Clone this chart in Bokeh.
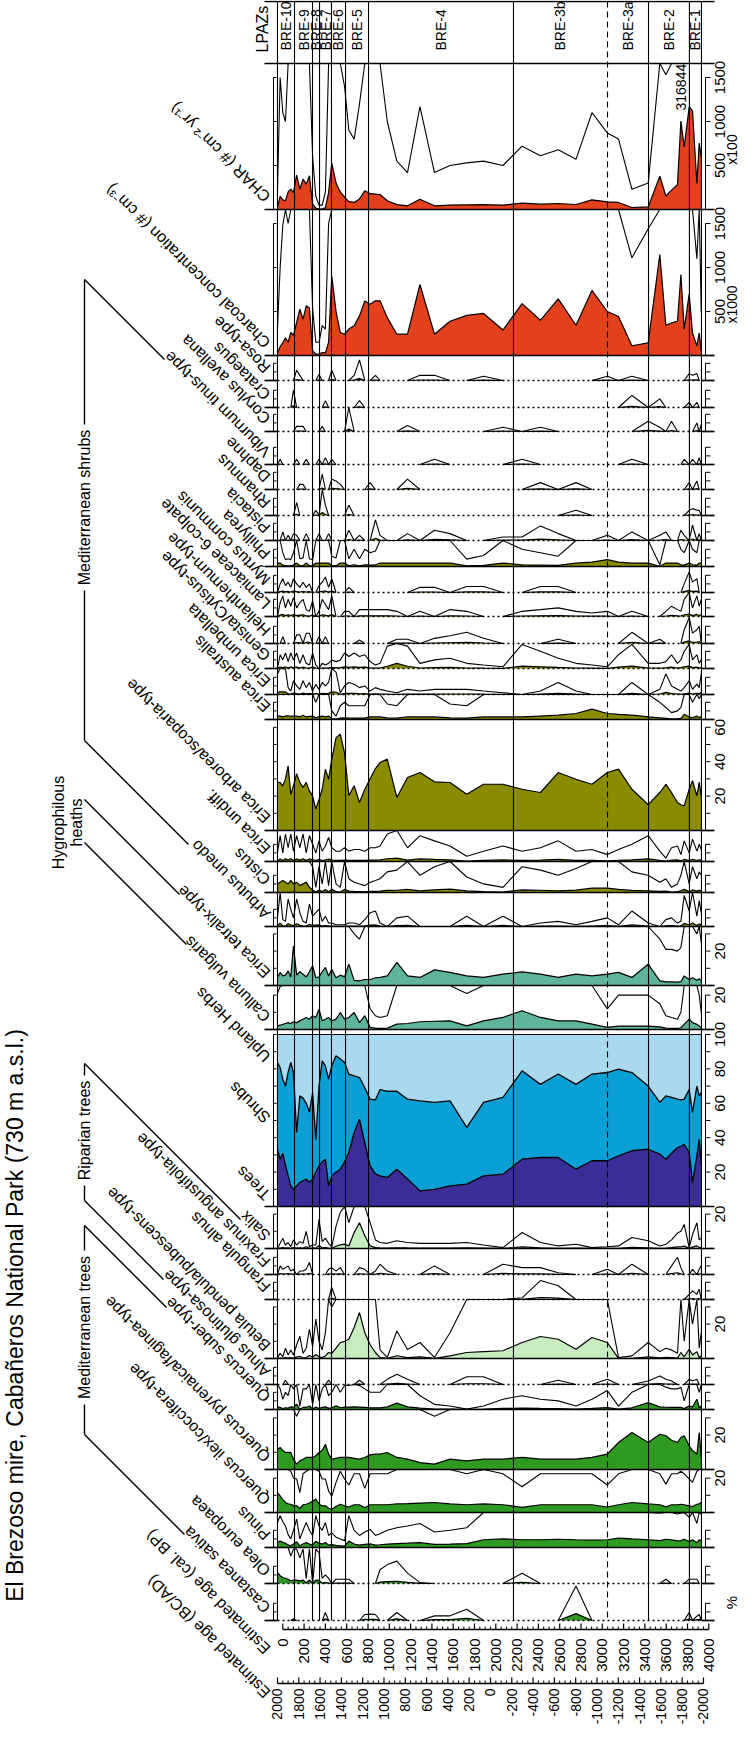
import math
import numpy as np
from bokeh.plotting import figure
from bokeh.models import Range1d
from bokeh.core.properties import value
from bokeh.embed import file_html
from bokeh.resources import INLINE

FONT = "Liberation Sans"

# ---------------------------------------------------------------- data
sample_age_bp = [-50, -25, 0, 25, 50, 75, 100, 130, 160, 190, 220, 250, 280, 310, 340, 370, 400, 430, 460, 500,
                 540, 580, 620, 670, 720, 770, 820, 870,
                 913, 981, 1071, 1171, 1288, 1424, 1570, 1727, 1885, 2067, 2247, 2419, 2586, 2753, 2903, 3047,
                 3152, 3278, 3431,
                 3540, 3597, 3650, 3706, 3738, 3769, 3816, 3847, 3888, 3910, 3929]

char_x100 = ([20, 150, 110, 100, 200, 231, 193, 390, 231, 345, 288, 383, 60, 15, 5, 5, 20, 193, 527, 300, 200, 140, 90, 80, 120, 212, 180, 175]
             + [170, 100, 55, 42, 117, 42, 50, 53, 55, 50, 72, 61, 68, 57, 110, 87, 80, 23, 30]
             + [378, 153, 220, 283, 1004, 708, 1168, 1120, 295, 755, 590])
conc_x1000 = ([30, 100, 148, 200, 150, 261, 230, 375, 527, 413, 564, 540, 53, 15, 15, 34, 30, 150, 900, 500, 261, 242, 300, 337, 450, 620, 583, 621]
              + [621, 430, 242, 242, 807, 242, 389, 456, 478, 289, 589, 400, 644, 344, 739, 500, 444, 111, 144]
              + [1148, 344, 370, 389, 920, 300, 700, 256, 110, 256, 50])
rosa = ([0, 0, 0, 0, 0, 0, 0, 0.6, 0.3, 0, 0, 0, 0, 0, 0.35, 0, 0, 0, 0.6, 0, 0, 0, 0, 0.3, 1.2, 0, 0, 0.3]
        + [0, 0, 0, 0, 0.3, 0.3, 0, 0, 0.25, 0, 0, 0, 0, 0, 0, 0.25, 0, 0.25, 0]
        + [0, 0, 0, 0, 0, 0, 0.4, 0.3, 0.4, 0, 0])
crataegus = ([0, 0, 0, 0, 0, 0, 1.0, 0, 0, 0, 0, 0, 0, 0, 0, 0, 0.4, 0, 0, 0, 0, 0, 0, 0, 0.4, 0, 0, 0]
             + [0, 0, 0, 0, 0, 0, 0, 0, 0, 0, 0, 0, 0, 0, 0, 0, 0, 0.7, 0]
             + [0.5, 0, 0, 0, 0, 0, 0.3, 0, 0.3, 0, 0])
corylus = ([0, 0, 0, 0, 0, 0, 0, 0.3, 0.3, 0.3, 0, 0, 0, 0, 0, 0.3, 0, 0, 0, 0, 0, 0, 1.5, 0, 0, 0, 0, 0]
           + [0, 0, 0, 0.35, 0, 0, 0, 0, 0, 0.25, 0, 0.25, 0, 0, 0, 0, 0, 0, 0.6]
           + [0.25, 0, 0.6, 0, 0, 0, 0, 0, 0.5, 0, 0.4])
viburnum = ([0, 0.3, 0, 0, 0, 0, 0, 0.3, 0, 0, 0.3, 0, 0, 0, 0.3, 0, 0.4, 0, 0.3, 0, 0, 0, 0, 0, 0, 0, 0, 0]
            + [0, 0, 0, 0, 0, 0.3, 0, 0, 0, 0, 0.3, 0, 0, 0, 0, 0, 0, 0.3, 0]
            + [0, 0, 0, 0, 0, 0.3, 0, 0.3, 0, 0.4, 0])
daphne = ([0, 0, 0, 0, 0, 0, 0, 0, 0.3, 0.3, 0, 0, 0, 0, 0, 0.9, 0, 0, 0.6, 0.5, 0.3, 0, 0, 0, 0, 0, 0.4, 0]
          + [0, 0, 0, 0.6, 0, 0, 0, 0, 0, 0, 0, 0.4, 0, 0.4, 0, 0, 0, 0, 0]
          + [0, 0, 0, 0, 0, 0, 0.4, 0, 0.5, 0, 0])
rhamnus = ([0, 0, 0, 0, 0, 0, 0, 0.75, 0, 0, 0, 0, 0, 0.3, 0, 1.8, 0.6, 0, 0, 0, 0, 0, 0.6, 0, 0, 0, 0, 0]
           + [0, 0, 0, 0, 0, 0, 0, 0, 0, 0, 0, 0, 0, 0.3, 0, 0, 0, 0, 0]
           + [0, 0, 0, 0, 0, 0, 0.3, 0.4, 0.3, 0.3, 0])
pistacia = ([0, 0, 0.5, 0, 0.3, 0, 0.4, 0.3, 0, 0, 0.4, 0, 0, 0, 0.4, 0, 0, 0.4, 0, 0, 0, 0, 0.6, 0, 0.3, 0, 0, 1.2]
            + [0.3, 0, 0, 0.4, 0, 0.6, 0.4, 0, 0, 0.2, 0.2, 0.85, 0.4, 0, 0, 0.3, 0, 0.5, 0]
            + [0.3, 0.5, 0, 0, 0.6, 0.3, 0, 0.9, 0, 0.4, 0])
phillyrea = ([2.0, 2.0, 0.8, 0.4, 0.45, 0.4, 0.8, 2.0, 0.45, 0.5, 2.0, 0.45, 0.4, 2.0, 2.0, 2.0, 2.0, 2.0, 0.6, 0.5, 2.0, 2.0, 0.45, 1.0, 0.45, 1.0, 0.8, 0.9]
             + [2.0, 2.0, 2.0, 2.0, 2.0, 2.0, 2.0, 0.43, 0.64, 2.0, 1.0, 0.8, 0.6, 2.0, 2.5, 4.0, 2.5, 2.0, 2.0]
             + [0.1, 2.0, 2.0, 2.0, 1.0, 0.8, 2.0, 1.0, 0.8, 2.0, 2.0])
myrtus = ([0, 0.5, 0.8, 0.4, 0.6, 0.3, 0.8, 0.5, 0.3, 0.6, 0.3, 0.5, 0, 0, 0.4, 0.6, 0.9, 0.3, 0.8, 0, 0, 0, 0.3, 0, 0, 0, 0, 0]
          + [0, 0, 0, 0, 0.3, 0.3, 0, 0.35, 0.35, 0, 0, 0.35, 0.35, 0, 0, 0, 0, 0, 0]
          + [0, 0, 0, 0, 0, 0.5, 1.2, 0.6, 0.8, 0, 0])
lamiaceae = ([0, 0.8, 1.2, 0.5, 1.0, 0.6, 1.1, 0.5, 0.8, 1.0, 0.4, 0.3, 0.9, 0, 0.3, 1.0, 0.7, 0.4, 1.2, 0, 0, 0.3, 0.3, 0, 0.4, 0.4, 0.4, 0.4]
             + [0.4, 0.4, 0.3, 0, 0.3, 0, 0.4, 0.3, 0, 0, 0.3, 0.4, 0.5, 0.3, 0.2, 0.3, 0, 0.3, 0]
             + [0, 0.3, 0.6, 0.4, 0.3, 1.0, 1.4, 0.5, 1.2, 0.6, 1.0])
helianthemum = ([0, 0, 0.4, 0, 0, 0, 0, 0.5, 0.5, 0, 0.6, 0.6, 0, 0, 0.4, 0, 0.4, 0, 0, 0, 0, 0, 0, 0, 0.2, 0, 0, 0]
                + [0, 0, 0.25, 0.25, 0, 0.3, 0.45, 0.65, 0.3, 0, 0, 0, 0.25, 0, 0, 0, 0, 0.65, 0]
                + [0.25, 0, 0, 0, 0, 0.8, 1.5, 0.6, 0.8, 1.0, 0])
genista = ([0, 0.8, 0.5, 0.9, 0.4, 0.9, 0.5, 0.9, 0.3, 0.8, 0.3, 0.2, 0.9, 0.2, 0, 0.3, 0.2, 0.3, 0.5, 0.4, 0.5, 0.9, 0.7, 0.9, 0.7, 0.8, 0.4, 0.2]
           + [0.3, 1.3, 3.0, 1.3, 0.3, 0.5, 0.6, 0.3, 0.2, 0.1, 1.4, 1.0, 0.6, 0.3, 0.2, 0.1, 0.8, 1.4, 0.3]
           + [0.3, 0.4, 0.8, 0.3, 0.5, 1.0, 1.4, 0.5, 0.8, 0.3, 0.5])
erica_umbellata = ([1.2, 1.5, 1.5, 1.5, 0.4, 0.2, 0.8, 0.5, 0.3, 0.8, 0.4, 0.7, 0.2, 0.6, 0.3, 0.7, 0.5, 0.7, 1.5, 1.3, 0.1, 0.5, 0.7, 0.6, 0.4, 0.5, 0.2, 0.4]
                   + [0.3, 0.2, 0.1, 0.3, 0.2, 0.3, 0.3, 0.3, 0.2, 0.1, 0, 0.2, 0.7, 0.2, 0, 0, 0, 0.7, 0]
                   + [0.3, 1.2, 0.5, 0.3, 0.2, 0.4, 0.8, 0.3, 0.6, 0.4, 1.2])
erica_australis = ([2, 2, 1.5, 2, 2.2, 1.8, 2, 2, 1.5, 2.5, 1.5, 1.8, 2, 1.0, 1.5, 2, 1.5, 2, 0.5, 0.2, 0.8, 1.0, 0.8, 0.8, 0.8, 0.8, 1.6, 1.5]
                   + [1.5, 0.9, 0.8, 1.6, 1.5, 1.5, 0.9, 0.8, 1.5, 1.5, 1.5, 2, 2.5, 3.5, 6.0, 3.5, 3.0, 2.5, 1.5]
                   + [1.0, 0.7, 0.4, 0.5, 0.7, 3, 1.5, 1.0, 2, 1.2, 1.5])
erica_arborea = ([28, 27.9, 26, 30, 37.6, 21, 26, 33, 28, 25, 28, 23, 20, 12.4, 18, 24, 35.7, 29.8, 41.5, 54, 56, 45, 20.2, 26, 16.3, 24, 30, 36]
                 + [39.5, 41.5, 19.2, 30.8, 33.7, 28.3, 27.9, 21.1, 26.9, 26.9, 24, 22.1, 33.7, 29.8, 26.9, 33.7, 35.7, 24, 15]
                 + [22.1, 26.9, 22, 16.3, 15, 14.3, 24, 28.9, 20.2, 28, 20])
erica_undiff = ([0.5, 1.5, 0.5, 1.6, 0.8, 1.6, 0.6, 1.5, 0.8, 1.6, 0.5, 1.5, 1.0, 0.5, 1.2, 0.6, 0.9, 1.4, 0.8, 0.6, 0.6, 0.8, 0.6, 0.7, 0.7, 0.6, 0.8, 0.8]
                + [0.9, 1.6, 2.0, 0.8, 1.5, 1.2, 0.9, 0.3, 0.6, 0.9, 0.6, 0.8, 1.2, 0.6, 0.7, 0.4, 0.7, 1.0, 1.5]
                + [0.6, 0.2, 0.8, 0.9, 0.4, 1.2, 0.5, 1.3, 0.6, 1.0, 0.7])
cistus = ([5, 6, 7, 6, 5, 7, 5, 6, 4, 5, 6, 3, 1.5, 0.3, 1.5, 0.5, 1.8, 0.4, 1.8, 0.5, 0.3, 1.8, 0.8, 0.6, 0.5, 0.4, 0.6, 0.7]
          + [0.8, 1.2, 1.3, 1.8, 1.0, 1.5, 2.0, 0.9, 0.5, 0.3, 1.5, 1.3, 1.0, 1.4, 2.5, 2.5, 1.8, 1.2, 1.0]
          + [0.6, 0.8, 0.3, 0.5, 1.0, 1.8, 0.5, 1.5, 0.8, 1.2, 1.0])
arbutus = ([0.5, 2.0, 0.4, 0.3, 1.6, 1.0, 0.5, 1.6, 0.8, 0.3, 0.2, 1.3, 0.6, 0.8, 1.0, 0.3, 0.6, 0.2, 0.2, 0.1, 0.1, 0.1, 0.2, 0.2, 0.1, 0.4, 0.8, 0.9]
           + [0.2, 0, 0.5, 0.6, 0, 0, 0, 0.6, 0, 0.6, 0, 0.2, 0.3, 0.1, 0.3, 0.5, 0.1, 0.9, 0.2]
           + [0, 0.4, 0.5, 0.2, 0.3, 1.8, 0.9, 2.0, 0.6, 1.5, 0.8])
erica_tetralix = ([4.7, 7.6, 5.6, 6, 8.5, 5, 23, 6, 8, 6.5, 5, 8, 11.4, 4.5, 5, 8, 10.5, 5.5, 9.5, 4.5, 6, 5, 12.4, 3, 2.7, 3.5, 3.5, 4.5]
                  + [4.7, 5.6, 13.4, 5.6, 4.7, 9.1, 7.6, 5.6, 4.7, 6.6, 7.9, 6.6, 4.7, 6.6, 5.6, 6.6, 7.6, 4.7, 12.4]
                  + [2.7, 2.1, 2.1, 2.0, 2.2, 5.6, 3.5, 4.5, 3.0, 4.0, 2.5])
calluna = ([2.1, 2.5, 3, 3.5, 4, 3.5, 4.5, 4, 5, 6, 7, 6, 8, 7, 11.8, 5, 6, 7, 5, 6, 9.9, 6, 7, 9.9, 4, 8, 1.2, 0.8]
           + [0.7, 0.8, 3.1, 3.5, 4.5, 4.8, 5, 2.1, 5, 7, 10.9, 7, 5, 5, 3.1, 1.2, 2.0, 2.0, 2.0]
           + [1.5, 0.8, 0.7, 0.6, 1.0, 3, 6, 4, 3, 2, 1.0])
trees_pct = ([33, 27.5, 31, 24, 18, 12, 10, 12, 14, 15, 16, 14, 16, 20, 23.6, 26, 27.5, 12, 17.8, 20, 21.7, 26, 31.4, 43, 50.8, 37, 23.6, 19]
             + [17.8, 16.9, 21.7, 16, 9.1, 10, 12, 13, 17.8, 18.8, 27.5, 28.5, 28.5, 21.7, 26.6, 26.6, 29.5, 32.4, 33.3]
             + [30.4, 27.5, 31, 34.3, 35, 36.2, 31.4, 14, 29.5, 39, 23.6])
trees_plus_shrubs_pct = ([83.7, 80.8, 74, 70, 78, 83.7, 77.9, 43, 64.3, 63, 60, 55, 66, 39, 70, 84.7, 81.8, 74, 81.8, 87.6, 85.7, 83.7, 77, 76, 75, 69, 62.4, 62]
                         + [68, 67, 67, 62.4, 61.4, 60.5, 61.4, 46, 60.5, 63.4, 78.9, 71, 77, 71, 77, 77.9, 79.8, 77.9, 70]
                         + [60.5, 64.3, 63.4, 62.4, 62, 62.4, 68, 54.7, 70, 64.3, 66.3])
salix = ([0, 0.3, 0.6, 0.2, 0.35, 0.1, 0.5, 0.2, 0.4, 0.3, 1.0, 0.1, 0.2, 0.2, 1.7, 0.4, 0.6, 0.3, 0.1, 1.3, 2.1, 2.5, 1.5, 9.3, 15, 7.4, 1.5, 0.5]
         + [0.35, 0.3, 0.45, 0.35, 0.3, 0.3, 0.3, 0.35, 0.2, 0.05, 0.93, 0.35, 0.15, 0.25, 0.05, 0.1, 0.15, 0.64, 0.45]
         + [0.15, 0.25, 0.5, 0.9, 1.0, 1.4, 0.05, 0.8, 1.5, 0.5, 0.6])
fraxinus = ([0, 0.5, 0.3, 0.4, 0.5, 0.2, 0.3, 0, 0.2, 0.2, 0.3, 0.7, 0, 0, 0, 0, 0, 0.3, 0.4, 0.2, 0.4, 0, 0, 0, 0.4, 0.3, 0, 0.2]
            + [0.6, 0.2, 0, 0, 0, 0.5, 0, 0, 0, 0.6, 0.4, 0.4, 0.1, 0, 0, 0.3, 0, 0.6, 0]
            + [0, 0, 0.5, 1.0, 0.4, 0, 0, 0.3, 0, 0.3, 0.5])
frangula = ([0, 0, 0, 0, 0, 0, 0, 0, 0, 0, 0, 0, 0, 0, 0, 0, 0, 0, 0.7, 0, 0, 0, 0, 0, 0, 0, 0, 0]
            + [0, 0, 0, 0, 0, 0, 0, 0, 0, 0, 0.1, 1.1, 0.8, 0, 0, 0, 0, 0, 0]
            + [0, 0, 0, 0, 0, 0, 0.3, 0.5, 0.3, 0.6, 0])
betula = ([0.05, 0.3, 0.1, 0.6, 0.2, 0.5, 0.2, 0.8, 1.3, 0.3, 0.6, 1.7, 0.7, 2.3, 1.0, 0.5, 1.5, 3.5, 3.0, 6, 9.3, 10, 11.2, 18, 26.7, 15, 8, 3.5]
          + [0.5, 0.06, 1.6, 0.52, 0.93, 0.06, 1.5, 3.5, 4, 4.5, 9.3, 12.8, 11.2, 5.4, 12.2, 9.3, 0.06, 0.15, 0.93]
          + [0.4, 0.6, 0.5, 0.3, 3.5, 1.0, 5.4, 2, 4, 0.6, 1.5])
alnus = ([0, 0, 0, 0.25, 0, 0, 0, 0, 0, 0, 0, 0, 0, 0, 0, 0, 0, 0.25, 0, 0, 0, 0, 0, 0, 0.25, 0, 0, 0]
         + [0, 0.3, 0.6, 0.3, 0, 0, 0, 0.45, 0.45, 0, 0, 0, 0.25, 0, 0, 0.3, 0, 0, 0.2]
         + [0.5, 0.3, 0.2, 0, 0, 0, 0.3, 0.2, 0.3, 0, 0])
quercus_suber = ([1.5, 1.2, 0.6, 1.0, 0.8, 1.5, 1.2, 3.1, 0.2, 1.2, 1.2, 2, 0.3, 1.5, 0.5, 1.2, 1.5, 0.8, 1.0, 2.1, 1.0, 1.4, 1.4, 1.5, 1.4, 1.2, 1.0, 1.0]
                 + [1.0, 1.5, 3.7, 1.5, 0.8, 0.3, 0.2, 0.02, 0.2, 0.6, 0.8, 0.6, 0.5, 0.2, 0.6, 1.1, 0.2, 1.0, 4.0]
                 + [1.5, 1.3, 1.2, 1.2, 1.3, 0.5, 2, 1.5, 6, 1, 2])
quercus_pyrenaica = ([11.8, 12.8, 11, 9.9, 9.9, 9.9, 6, 3.1, 5, 6, 7, 7, 7, 8, 9.9, 11, 14.7, 8.9, 6, 6.5, 7, 7, 7, 6.5, 6, 7, 8.5, 8.9]
                     + [8.9, 9.9, 7, 6, 4, 3.1, 6, 5, 6, 6, 7, 6, 6, 6, 7, 8.9, 15.7, 21.5, 15.7]
                     + [20.5, 19.6, 17, 15.7, 18.6, 19.6, 13.8, 11, 8.9, 21.5, 7])
quercus_ilex = ([11.6, 9.7, 7.5, 5.8, 5, 4.8, 4, 3.9, 2.3, 4.5, 4.8, 5.5, 6.5, 7.8, 4.8, 3.9, 3.9, 2.5, 1.9, 3.5, 4.8, 3.9, 3.2, 4.5, 4.5, 2.8, 4.5, 4.5]
                + [4.5, 4.5, 5, 5.2, 5.5, 5.8, 5, 4.5, 5, 4.5, 3.0, 4.5, 4.5, 4.5, 4.5, 3.2, 4.5, 5.8, 5]
                + [4.5, 3.3, 4.5, 4.5, 4.8, 4.5, 3.9, 3.5, 4.8, 5, 5.8])
pinus = ([2.9, 3.7, 3.0, 2.5, 1.5, 1.0, 2.0, 3.3, 1.0, 2.0, 2.9, 2.0, 1.4, 3.7, 2.5, 2.0, 2.9, 1.4, 1.7, 1.2, 1.0, 0.8, 3.7, 2.0, 1.4, 1.8, 2.1, 1.4]
         + [1.6, 2.0, 2.3, 2.5, 2.8, 1.8, 2.0, 2.3, 4.5, 5, 4.5, 4.5, 4.8, 4.5, 4.3, 4.5, 5.5, 5, 4.5]
         + [4.0, 4.8, 4.5, 3.9, 4.0, 4.8, 3.5, 4.5, 2.8, 4.5, 3.9])
olea = ([6.4, 4.5, 3.5, 3.0, 2.5, 1.6, 2.0, 2.0, 1.5, 2.0, 0.3, 2.0, 0, 2.0, 1.8, 0.3, 0.5, 0.3, 0, 0.25, 0.25, 0.25, 0.25, 0, 0, 0, 0, 0]
        + [0.8, 1.1, 1.3, 0.6, 0.05, 0, 0, 0, 0, 0, 0.6, 0, 0, 0, 0, 0, 0, 0, 0]
        + [0, 0.25, 0, 0, 0, 0, 0.25, 0.25, 0.25, 0, 0])
castanea = ([0, 0, 0, 0, 0, 0, 0.2, 0, 0, 0, 0, 0, 0, 0, 0, 0, 0.93, 0, 0, 0, 0, 0, 0, 0, 0, 0.7, 0.74, 0.7]
            + [0, 0, 0.93, 0, 0, 0.54, 0.54, 1.3, 0, 0, 0, 0, 0, 4.0, 0, 0, 0, 0, 0]
            + [0, 0, 0, 0, 0, 0, 0.93, 0, 0.5, 0.7, 0])

zone_edges_bp = [-50, 110, 279, 345, 457, 589, 805, 2166, 3049, 3434, 3818, 3931]
dashed_zone_edges_bp = [3049]
zone_names = ["BRE-10", "BRE-9", "BRE-8", "BRE-7", "BRE-6", "BRE-5", "BRE-4", "BRE-3b", "BRE-3a", "BRE-2", "BRE-1"]
cal_bp_ticks = list(range(0, 4001, 200))
cal_bp_minor = list(range(0, 4001, 50))
bc_ad_ticks = list(range(-2000, 2001, 200))
bc_ad_minor = list(range(-2000, 2001, 50))
charcoal_ticks = [500, 1000, 1500]
off_scale_value_text = "316844"

# ---------------------------------------------------------------- layout
TOP, BOT, LEFT, RIGHT = 8, 1734, 8, 747
AGE0_X, PX_PER_YR = 290.3, 0.1065
PCT = 1.72
CH = 0.088
RED, OLIVE, TEAL, DARK = "#e3411b", "#8b8b00", "#5fb49c", "#2a2a2a"
TREES_C, SHRUBS_C, HERBS_C = "#3a2d98", "#0a9fd5", "#a9d9ef"
RIP_C, GREEN = "#c6ecbf", "#2f9a22"
BP_AXIS_Y, AD_AXIS_Y = 1637, 1691
CURVE_W, EXAG_W = 1.2, 1.1

x0 = (LEFT - AGE0_X) / PX_PER_YR
x1 = (RIGHT - AGE0_X) / PX_PER_YR

p = figure(frame_width=RIGHT - LEFT, frame_height=BOT - TOP,
           x_range=Range1d(x0, x1), y_range=Range1d(BOT, TOP),
           x_axis_type=None, y_axis_type=None, min_border=0,
           output_backend="svg", toolbar_location=None,
           background_fill_color="white", border_fill_color="white", outline_line_color=None)
p.extra_x_ranges = {"px": Range1d(LEFT, RIGHT), "ad": Range1d(1950 - x0, 1950 - x1)}

ages = np.array(sample_age_bp, dtype=float)


def txt(x, y, t, size, angle=0.0, align="left", baseline="alphabetic", xr="px", yr=None):
    kw = dict(x=x, y=y, text=t, angle=angle, text_font=value(FONT), text_font_size=value(size),
              text_align=align, text_baseline=baseline, text_color="black")
    if xr:
        kw["x_range_name"] = xr
    if yr:
        kw["y_range_name"] = yr
    p.text(**kw)


def runs(x, y):
    xs, ys, cx, cy = [], [], [], []
    for i in range(len(x) - 1):
        if y[i] > 0 or y[i + 1] > 0:
            if not cx:
                cx, cy = [x[i]], [y[i]]
            cx.append(x[i + 1]); cy.append(y[i + 1])
        elif cx:
            xs.append(cx); ys.append(cy); cx, cy = [], []
    if cx:
        xs.append(cx); ys.append(cy)
    return xs, ys


F = [5, 10]
panels = [
    ("char", "CHAR (# cm\u207b\u00b2 yr\u207b\u00b9)", 217, 71, CH, char_x100, RED, 10, False, charcoal_ticks, charcoal_ticks),
    ("conc", "Charcoal concentration (# cm\u207b\u00b3)", 363, 217, CH, conc_x1000, RED, 10, False, charcoal_ticks, charcoal_ticks),
    ("rosa", "Rosa-type", 388, 363, PCT, rosa, DARK, 10, True, F, []),
    ("crat", "Crataegus", 415, 388, PCT, crataegus, DARK, 10, True, F, []),
    ("cory", "Corylus avellana", 439, 415, PCT, corylus, DARK, 10, True, F, []),
    ("vibu", "Viburnum tinus-type", 472, 439, PCT, viburnum, OLIVE, 10, True, F, []),
    ("daph", "Daphne", 497, 472, PCT, daphne, OLIVE, 10, True, F, []),
    ("rham", "Rhamnus", 523, 497, PCT, rhamnus, OLIVE, 10, True, F, []),
    ("pist", "Pistacia", 548, 523, PCT, pistacia, OLIVE, 10, True, F, []),
    ("phil", "Phillyrea", 574, 548, PCT, phillyrea, OLIVE, 10, False, F, []),
    ("myrt", "Myrtus communis", 600, 574, PCT, myrtus, OLIVE, 10, True, F, []),
    ("lami", "Lamiaceae 6-colpate", 624, 600, PCT, lamiaceae, OLIVE, 10, True, F, []),
    ("heli", "Helianthemum-type", 651, 624, PCT, helianthemum, OLIVE, 10, True, F, []),
    ("geni", "Genista/Cytisus-type", 676, 651, PCT, genista, OLIVE, 10, True, F, []),
    ("eumb", "Erica umbellata", 702, 676, PCT, erica_umbellata, OLIVE, 10, True, F, []),
    ("eaus", "Erica australis", 727, 702, PCT, erica_australis, OLIVE, 10, False, F, []),
    ("earb", "Erica arborea/scoparia-type", 838, 727, PCT, erica_arborea, OLIVE, None, False, [10, 20, 30, 40, 50, 60], [20, 40, 60]),
    ("eund", "Erica undiff.", 869, 838, PCT, erica_undiff, OLIVE, 10, False, F, []),
    ("cist", "Cistus", 900, 869, PCT, cistus, OLIVE, 10, False, F, []),
    ("arbu", "Arbutus unedo", 934, 900, PCT, arbutus, OLIVE, 10, False, F, []),
    ("etet", "Erica tetralix-type", 993, 934, PCT, erica_tetralix, TEAL, 10, False, [10, 20, 30], [20]),
    ("call", "Calluna vulgaris", 1037, 993, PCT, calluna, TEAL, 10, False, [10, 20], [20]),
    ("sali", "Salix", 1256, 1214, PCT, salix, RIP_C, 10, False, [10, 20], [20]),
    ("frax", "Fraxinus angustifolia-type", 1282, 1256, PCT, fraxinus, RIP_C, 10, True, F, []),
    ("fran", "Frangula alnus", 1307, 1282, PCT, frangula, RIP_C, 10, True, F, []),
    ("betu", "Betula pendula/pubescens-type", 1366, 1307, PCT, betula, RIP_C, 10, False, [10, 20, 30], [20]),
    ("alnu", "Alnus glutinosa-type", 1392, 1366, PCT, alnus, RIP_C, 10, True, F, []),
    ("qsub", "Quercus suber-type", 1417, 1392, PCT, quercus_suber, GREEN, 10, False, F, []),
    ("qpyr", "Quercus pyrenaica/faginea-type", 1477, 1417, PCT, quercus_pyrenaica, GREEN, 10, False, [10, 20, 30], [20]),
    ("qile", "Quercus ilex/coccifera-type", 1520, 1477, PCT, quercus_ilex, GREEN, 5, False, [10, 20], [20]),
    ("pinu", "Pinus", 1555, 1520, PCT, pinus, GREEN, 5, False, F, []),
    ("olea", "Olea europaea", 1591, 1555, PCT, olea, GREEN, 10, True, F, []),
    ("cast", "Castanea sativa", 1628, 1591, PCT, castanea, GREEN, 5, True, F, []),
]

STACK_B = 1214
LBL_X, LBL_DY = 275, 10


def add_axis_marks(key, ticks, labels):
    tmax = max(ticks)
    for xa, xb in ((713, 718), (281, 284)):
        p.segment(x0=[xa], x1=[xa], y0=[0], y1=[tmax], line_color="black", line_width=1,
                  x_range_name="px", y_range_name=key)
        p.segment(x0=[xa] * len(ticks), x1=[xb] * len(ticks), y0=ticks, y1=ticks, line_color="black",
                  line_width=1, x_range_name="px", y_range_name=key)
    if labels:
        txt([727] * len(labels), labels, [str(v) for v in labels], "15px", math.pi / 2, "center", "middle", "px", key)


for key, label, b, top, s, data, color, ex, dotted, ticks, labs in panels:
    assert len(data) == len(ages), key
    p.extra_y_ranges[key] = Range1d((b - BOT) / s, (b - TOP) / s)
    v = np.array(data, dtype=float)
    top_val = (b - top) / s
    p.varea(x=ages, y1=np.zeros_like(v), y2=v, fill_color=color, y_range_name=key)
    if ex:
        xs, ys = runs(list(ages), list(np.minimum(v * ex, top_val)))
        p.multi_line(xs, ys, line_color="black", line_width=EXAG_W, y_range_name=key)
    xs, ys = runs(list(ages), list(v))
    p.multi_line(xs, ys, line_color="black", line_width=CURVE_W, y_range_name=key)
    p.segment(x0=[272, 709], x1=[285, 722], y0=[b, b], y1=[b, b], line_color="black", line_width=1.7, x_range_name="px")
    p.segment(x0=[285], x1=[709], y0=[b], y1=[b], line_color="black", line_width=1.7,
              line_dash="2 3" if dotted else "solid", x_range_name="px")
    add_axis_marks(key, ticks, labs)
    txt([LBL_X], [b - LBL_DY], [label], "16px", 3 * math.pi / 4, "left", "alphabetic", "px")

# stacked Trees / Shrubs / Upland Herbs panel
p.extra_y_ranges["stack"] = Range1d((STACK_B - BOT) / PCT, (STACK_B - TOP) / PCT)
tr = np.array(trees_pct, dtype=float)
ts = np.array(trees_plus_shrubs_pct, dtype=float)
assert len(tr) == len(ages) and len(ts) == len(ages)
p.varea(x=ages, y1=np.zeros_like(tr), y2=tr, fill_color=TREES_C, y_range_name="stack")
p.varea(x=ages, y1=tr, y2=ts, fill_color=SHRUBS_C, y_range_name="stack")
p.varea(x=ages, y1=ts, y2=np.full_like(ts, 100.0), fill_color=HERBS_C, y_range_name="stack")
p.line(ages, tr, line_color="black", line_width=1.3, y_range_name="stack")
p.line(ages, ts, line_color="black", line_width=1.3, y_range_name="stack")
p.segment(x0=[ages[0]], x1=[ages[-1]], y0=[100], y1=[100], line_color="black", line_width=1, y_range_name="stack")
p.segment(x0=[272], x1=[722], y0=[STACK_B], y1=[STACK_B], line_color="black", line_width=1.7, x_range_name="px")
add_axis_marks("stack", list(range(10, 101, 10)), [20, 40, 60, 80, 100])
txt([LBL_X] * 3, [1067, 1128, 1205], ["Upland Herbs", "Shrubs", "Trees"], "16px", 3 * math.pi / 4, "left", "alphabetic", "px")

# zone lines
solid_edges = [e for e in zone_edges_bp if e not in dashed_zone_edges_bp]
p.segment(x0=solid_edges, x1=solid_edges, y0=[9] * len(solid_edges), y1=[1628] * len(solid_edges),
          line_color="black", line_width=1.1)
p.segment(x0=dashed_zone_edges_bp, x1=dashed_zone_edges_bp, y0=[9], y1=[1628], line_color="black",
          line_width=1.1, line_dash="6 4")
p.segment(x0=[272, 272], x1=[722, 722], y0=[9, 71], y1=[9, 71], line_color="black", line_width=1.7, x_range_name="px")
mids = [(zone_edges_bp[i] + zone_edges_bp[i + 1]) / 2 for i in range(len(zone_names))]
p.text(x=mids, y=[58] * len(mids), text=zone_names, angle=math.pi / 2, text_font=value(FONT),
       text_font_size=value("14px"), text_align="left", text_baseline="middle")
txt([270], [60], ["LPAZs"], "16px", math.pi / 2, "left", "middle", "px")

# off-scale value and unit labels
p.text(x=[sample_age_bp[51]], y=[118], text=[off_scale_value_text], angle=math.pi / 2, text_font=value(FONT),
       text_font_size=value("14px"), text_align="left", text_baseline="middle")
txt([739, 739], [157, 312], ["x100", "x1000"], "14px", math.pi / 2, "center", "middle", "px")
txt([739], [1610], ["%"], "15px", math.pi / 2, "center", "middle", "px")

# group brackets
brackets = [
    ([92, 92], [287, 432]), ([92, 92], [598, 748]), ([92, 172], [287, 367]), ([92, 196], [748, 852]),
    ([92, 187], [807, 902]), ([92, 194], [850, 952]),
    ([92, 92], [1071, 1083]), ([92, 92], [1193, 1208]), ([92, 248], [1071, 1227]), ([92, 171], [1208, 1287]),
    ([92, 92], [1233, 1258]), ([92, 92], [1412, 1442]), ([92, 174], [1233, 1315]), ([92, 192], [1442, 1542]),
]
p.multi_line([bk[0] for bk in brackets], [bk[1] for bk in brackets], line_color="black", line_width=1.4, x_range_name="px")
txt([92, 66, 84, 92, 92], [515, 830, 830, 1138, 1335],
    ["Mediterranean shrubs", "Hygrophilous", "heaths", "Riparian trees", "Mediterranean trees"],
    "16px", math.pi / 2, "center", "middle", "px")

# title
txt([22], [1323], ["El Brezoso mire, Cabañeros National Park (730 m a.s.l.)"], "23px", math.pi / 2, "center", "middle", "px")

# age axes (cal. BP and BC/AD), drawn on the age scales
def draw_axis(ticks, minor, y, xr, lo, hi, size, gap):
    kw = {} if xr is None else {"x_range_name": xr}
    p.segment(x0=[lo], x1=[hi], y0=[y], y1=[y], line_color="black", line_width=1.5, **kw)
    mn = [m for m in minor if m not in ticks]
    p.segment(x0=mn, x1=mn, y0=[y] * len(mn), y1=[y - 3] * len(mn), line_color="black", line_width=1, **kw)
    p.segment(x0=ticks, x1=ticks, y0=[y] * len(ticks), y1=[y - 6] * len(ticks), line_color="black", line_width=1.2, **kw)
    p.text(x=ticks, y=[y + gap] * len(ticks), text=[str(t) for t in ticks], angle=math.pi / 2,
           text_font=value(FONT), text_font_size=value(size), text_align="right", text_baseline="middle", **kw)


draw_axis(cal_bp_ticks, cal_bp_minor, BP_AXIS_Y, None, 0, 4000, "15px", 9)
draw_axis(bc_ad_ticks, bc_ad_minor, AD_AXIS_Y, "ad", -2000, 2000, "14px", 5)
txt([LBL_X, LBL_X], [1659, 1703], ["Estimated age (cal. BP)", "Estimated age (BC/AD)"], "16px",
    3 * math.pi / 4, "left", "alphabetic", "px")

open("out.html", "w").write(file_html(p, INLINE))
